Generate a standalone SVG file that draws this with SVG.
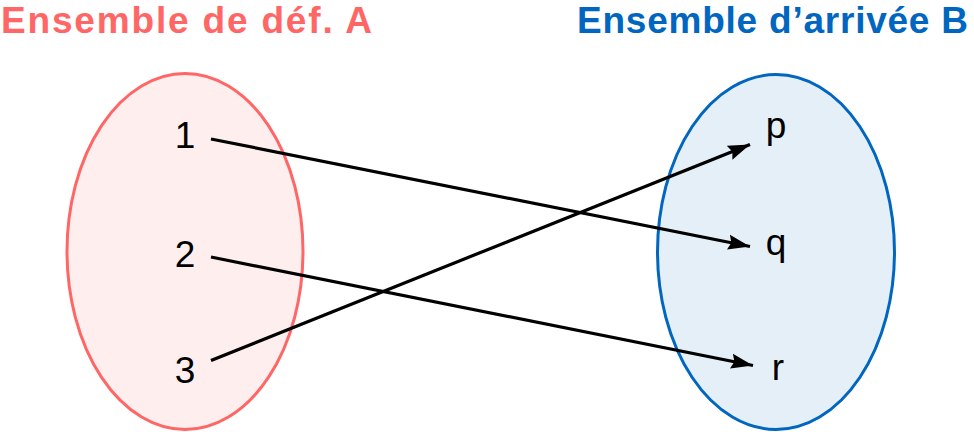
<svg xmlns="http://www.w3.org/2000/svg" width="974" height="432" viewBox="0 0 974 432">
<style>
.title{font-family:"Liberation Sans","DejaVu Sans",sans-serif;font-weight:bold;font-size:37px}
.lbl{font-family:"Liberation Sans","DejaVu Sans",sans-serif;font-size:37px;fill:#000;text-anchor:middle}
.edge{stroke:#000;stroke-width:3.2;fill:none;marker-end:url(#ah)}
</style>
<defs>
<marker id="ah" markerUnits="userSpaceOnUse" markerWidth="24" markerHeight="18" refX="22" refY="8" orient="auto">
<path d="M0,0.5 L22,8 L0,15.5 L3,8 Z" fill="#000"/>
</marker>
</defs>
<g id="setA">
<ellipse cx="185" cy="251.5" rx="118" ry="178" fill="#ffeeee" stroke="#ff6666" stroke-width="3"/>
<text class="title" x="1" y="33" fill="#ff6666" textLength="371" lengthAdjust="spacing">Ensemble de déf. A</text>
</g>
<g id="setB">
<ellipse cx="776" cy="252" rx="118.5" ry="177.5" fill="#e5eff8" stroke="#0066bf" stroke-width="3"/>
<text class="title" x="577" y="33" fill="#0066bf" textLength="391" lengthAdjust="spacing">Ensemble d’arrivée B</text>
</g>
<g id="n1"><text class="lbl" x="185" y="148">1</text></g>
<g id="n2"><text class="lbl" x="185" y="267">2</text></g>
<g id="n3"><text class="lbl" x="185" y="383">3</text></g>
<g id="np"><text class="lbl" x="776" y="138">p</text></g>
<g id="nq"><text class="lbl" x="776" y="255">q</text></g>
<g id="nr"><text class="lbl" x="778" y="380">r</text></g>
<g id="connectors">
<line class="edge" x1="211" y1="139" x2="750" y2="246.5"/>
<line class="edge" x1="211" y1="257" x2="753" y2="365.5"/>
<line class="edge" x1="211" y1="360.5" x2="750" y2="144.5"/>
</g>
</svg>
